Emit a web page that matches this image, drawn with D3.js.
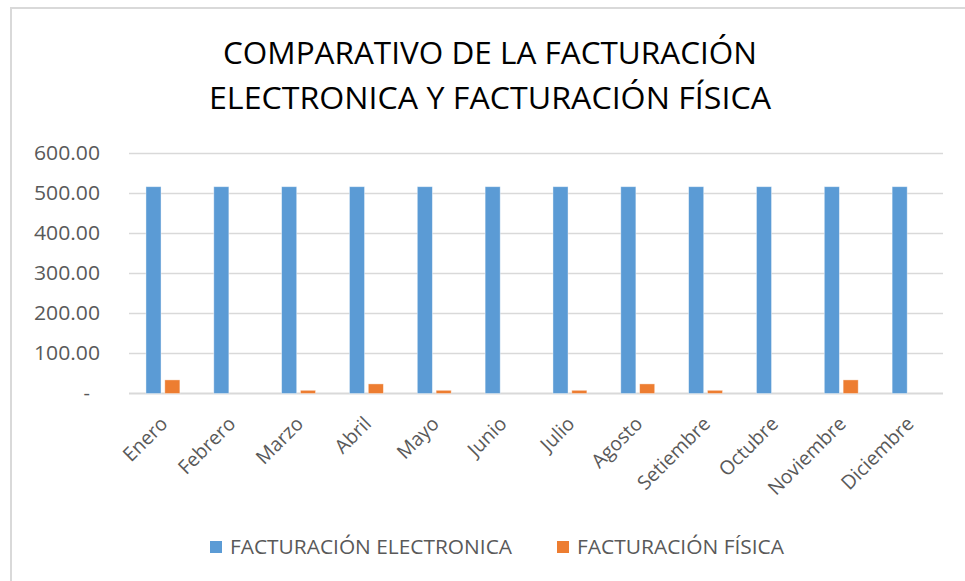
<!DOCTYPE html>
<html>
<head>
<meta charset="utf-8">
<script src="https://cdn.jsdelivr.net/npm/d3@7"></script>
<style>
  html, body { margin: 0; padding: 0; background: #fff; }
  svg { display: block; font-family: "Open Sans", "Noto Sans", sans-serif; }
</style>
</head>
<body>
<div id="container"></div>
<script>
// datos
const months = ["Enero","Febrero","Marzo","Abril","Mayo","Junio","Julio","Agosto","Setiembre","Octubre","Noviembre","Diciembre"];
const series = ["FACTURACIÓN ELECTRONICA","FACTURACIÓN FÍSICA"];
const electronica = [517,517,517,517,517,517,517,517,517,517,517,517];
const fisica = [34,0,8,24,8,0,8,24,8,0,34,0];
const yTicks = [0,100,200,300,400,500,600];
const titleLines = ["COMPARATIVO DE LA FACTURACIÓN","ELECTRONICA Y FACTURACIÓN FÍSICA"];
const colors = ["#5B9BD5","#ED7D31"];

const width = 965, height = 581;
const data = months.map((m,i)=>({mes:m, values:[electronica[i], fisica[i]]}));

const svg = d3.select("#container")
  .append("svg")
    .attr("width", width)
    .attr("height", height);

// marco del grafico
svg.append("rect")
  .attr("x", 11).attr("y", 8)
  .attr("width", 980).attr("height", 600)
  .attr("fill", "#fff")
  .attr("stroke", "#d9d9d9")
  .attr("stroke-width", 2);

// titulo
svg.append("g")
  .selectAll("text")
  .data(titleLines)
  .join("text")
    .attr("x", 490)
    .attr("y", (d,i)=>64 + i*45)
    .attr("text-anchor", "middle")
    .attr("font-size", 31)
    .attr("fill", "#000")
    .attr("textLength", (d,i)=> i===0 ? 534 : 562)
    .attr("lengthAdjust", "spacingAndGlyphs")
    .text(d=>d);

const x = d3.scaleBand()
  .domain(months)
  .range([129, 943])
  .paddingInner(0.5)
  .paddingOuter(0.25);

const xs = d3.scaleBand()
  .domain(series)
  .range([0, x.bandwidth()])
  .paddingInner(0.2);

const y = d3.scaleLinear()
  .domain([0, 600])
  .range([393.5, 153.5]);

// grilla
svg.append("g")
  .selectAll("line")
  .data(yTicks)
  .join("line")
    .attr("x1", 129).attr("x2", 943)
    .attr("y1", d=>y(d)).attr("y2", d=>y(d))
    .attr("stroke", "#d9d9d9")
    .attr("stroke-width", d=> d===0 ? 2 : 1.5);

// eje y
const yAxis = svg.append("g")
  .attr("transform", "translate(100,0)")
  .call(d3.axisLeft(y).tickValues(yTicks).tickSize(0).tickPadding(0)
    .tickFormat(d=> d===0 ? "-" : d3.format(".2f")(d)));
yAxis.select(".domain").remove();
yAxis.selectAll("text")
  .attr("font-family", "'Open Sans', sans-serif")
  .attr("font-size", 20)
  .attr("fill", "#595959")
  .attr("x", d=> d===0 ? -10 : 0)
  .attr("textLength", d=> d===0 ? null : 66)
  .attr("lengthAdjust", "spacingAndGlyphs");

// barras
svg.append("g")
  .selectAll("g")
  .data(data)
  .join("g")
    .attr("transform", d=>`translate(${x(d.mes)},0)`)
  .selectAll("rect")
  .data(d=>d.values.map((v,i)=>({serie:series[i], value:v, idx:i})))
  .join("rect")
    .attr("x", d=>xs(d.serie))
    .attr("y", d=>y(d.value))
    .attr("width", xs.bandwidth())
    .attr("height", d=>y(0)-y(d.value))
    .attr("fill", d=>colors[d.idx])
    .attr("stroke", "#fff")
    .attr("stroke-opacity", 0.5)
    .attr("stroke-width", 0.8);

// etiquetas del eje x
svg.append("g")
  .selectAll("text")
  .data(months)
  .join("text")
    .attr("transform", d=>`translate(${x(d) + x.bandwidth()/2 + 6},${425}) rotate(-45)`)
    .attr("text-anchor", "end")
    .attr("font-size", 19.5)
    .attr("fill", "#595959")
    .text(d=>d);

// leyenda
const legendX = [210, 557];
const legendW = [282, 207];
const legend = svg.append("g")
  .selectAll("g")
  .data(series)
  .join("g")
    .attr("transform", (d,i)=>`translate(${legendX[i]},541)`);
legend.append("rect")
  .attr("width", 12).attr("height", 12)
  .attr("fill", (d,i)=>colors[i]);
legend.append("text")
  .attr("x", 20)
  .attr("y", 13)
  .attr("font-size", 19.5)
  .attr("fill", "#595959")
  .attr("textLength", (d,i)=>legendW[i])
  .attr("lengthAdjust", "spacingAndGlyphs")
  .text(d=>d);
</script>
</body>
</html>
